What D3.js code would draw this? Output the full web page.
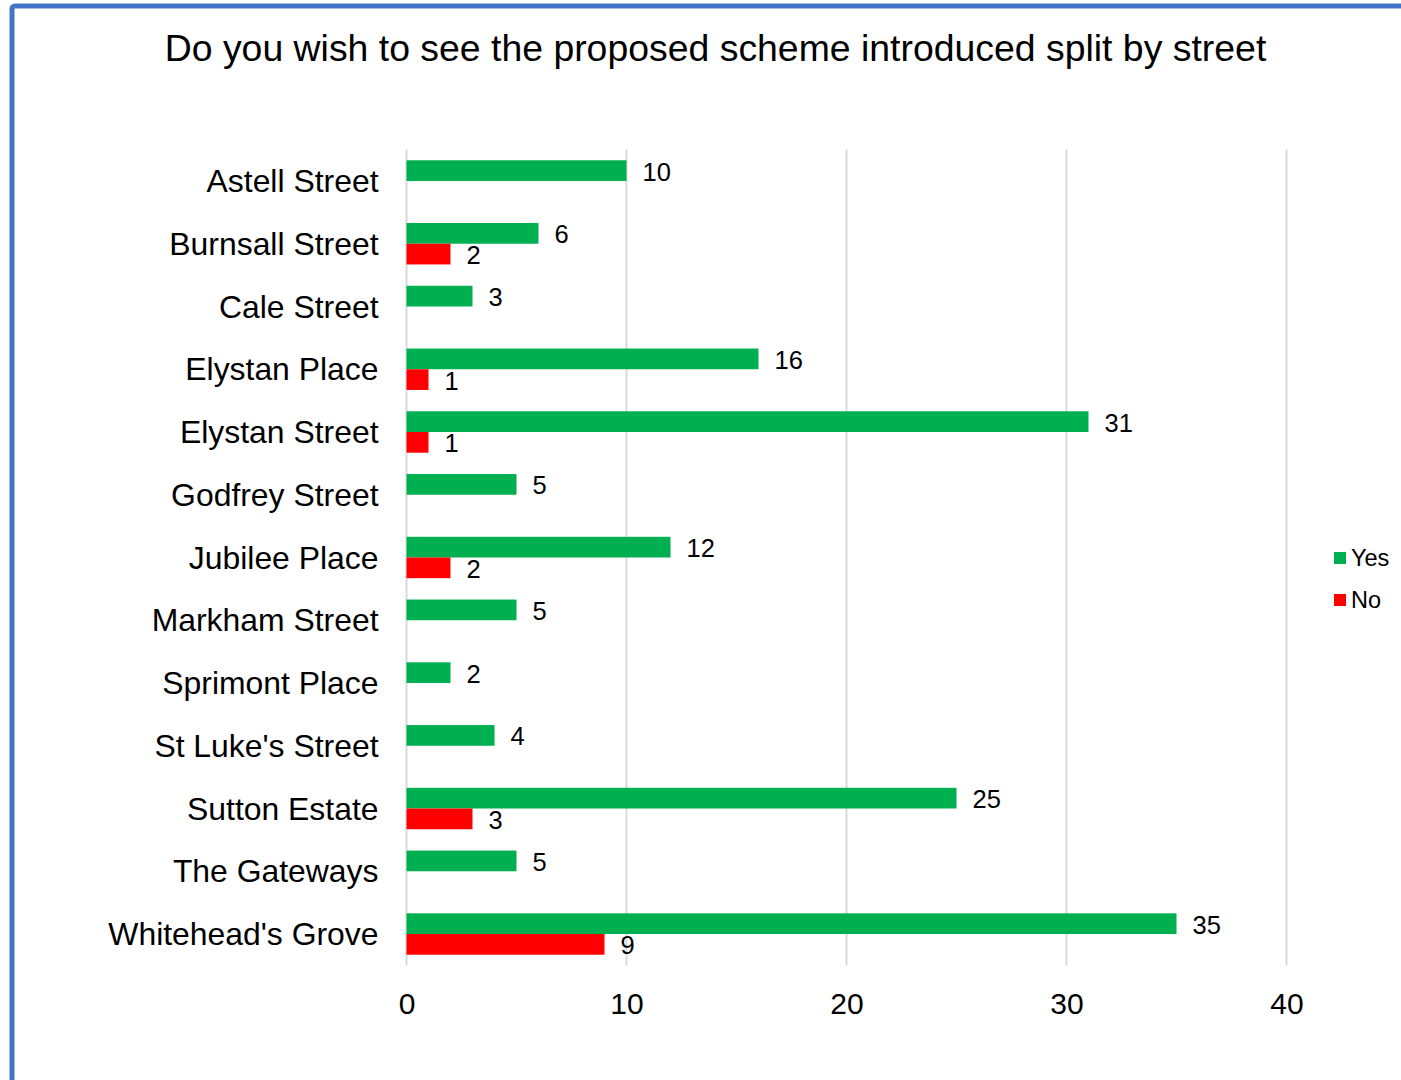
<!DOCTYPE html>
<html><head><meta charset="utf-8">
<script src="https://cdn.jsdelivr.net/npm/d3@7"></script>
<style>body{margin:0;background:#fff;}svg{display:block;font-family:Arial,"Liberation Sans",sans-serif;}</style>
</head><body>
<script>
const title = "Do you wish to see the proposed scheme introduced split by street";
const streets = ["Astell Street","Burnsall Street","Cale Street","Elystan Place","Elystan Street","Godfrey Street","Jubilee Place","Markham Street","Sprimont Place","St Luke's Street","Sutton Estate","The Gateways","Whitehead's Grove"];
const yesValues = [10,6,3,16,31,5,12,5,2,4,25,5,35];
const noValues = [null,2,null,1,1,null,2,null,null,null,3,null,9];
const seriesNames = ["Yes","No"];
const seriesColors = ["#00B050","#FF0000"];
const xTicks = [0,10,20,30,40];

const W = 1401, H = 1080;
const svg = d3.select("body").append("svg").attr("width", W).attr("height", H);
svg.append("rect").attr("x",12).attr("y",6).attr("width",W+20).attr("height",H+20)
  .attr("rx",3).attr("fill","#fff").attr("stroke","#4472C4").attr("stroke-width",5);

svg.append("text").attr("x",715.5).attr("y",61).attr("text-anchor","middle")
  .attr("font-size",37.4).attr("fill","#000").text(title);

const x = d3.scaleLinear().domain([0,40]).range([406.5,1286.5]);
const y = d3.scaleBand().domain(streets).range([149.6,965.4]).paddingInner(0.34).paddingOuter(0.17);
const y1 = d3.scaleBand().domain(seriesNames).range([0,y.bandwidth()]);

// gridlines
svg.append("g").selectAll("line").data(xTicks).join("line")
  .attr("x1",d=>x(d)).attr("x2",d=>x(d)).attr("y1",149.6).attr("y2",965.4)
  .attr("stroke","#d9d9d9").attr("stroke-width",2);

const rows = streets.map((s,i)=>({street:s, vals:[yesValues[i], noValues[i]]}));
const g = svg.append("g");
rows.forEach(r=>{
  r.vals.forEach((v,j)=>{
    if (v==null) return;
    const yy = y(r.street)+y1(seriesNames[j]);
    g.append("rect").attr("x",x(0)).attr("y",yy).attr("width",x(v)-x(0)).attr("height",y1.bandwidth())
      .attr("fill",seriesColors[j]);
    g.append("text").attr("x",x(v)+16).attr("y",yy+y1.bandwidth()/2+1).attr("dy","0.35em")
      .attr("font-size",25.5).attr("fill","#000").text(v);
  });
});

// category axis
const yAxis = d3.axisLeft(y).tickSize(0).tickPadding(28);
const ya = svg.append("g").attr("transform",`translate(${x(0)},1)`).call(yAxis);
ya.select(".domain").remove();
ya.selectAll("text").attr("font-size",31.9).attr("font-family","Arial, 'Liberation Sans', sans-serif").attr("fill","#000");

// x axis
const xAxis = d3.axisBottom(x).tickValues(xTicks).tickSize(0).tickPadding(0);
const xa = svg.append("g").attr("transform",`translate(0,988)`).call(xAxis);
xa.select(".domain").remove();
xa.selectAll("text").attr("font-size",30).attr("font-family","Arial, 'Liberation Sans', sans-serif").attr("fill","#000").attr("dy","0.85em");

// legend
const lg = svg.append("g");
seriesNames.forEach((n,i)=>{
  const cy = 558 + i*42;
  lg.append("rect").attr("x",1334).attr("y",cy-6).attr("width",12).attr("height",12).attr("fill",seriesColors[i]);
  lg.append("text").attr("x",1351).attr("y",cy).attr("dy","0.35em").attr("font-size",23.5).attr("fill","#000").text(n);
});
</script>
</body></html>
